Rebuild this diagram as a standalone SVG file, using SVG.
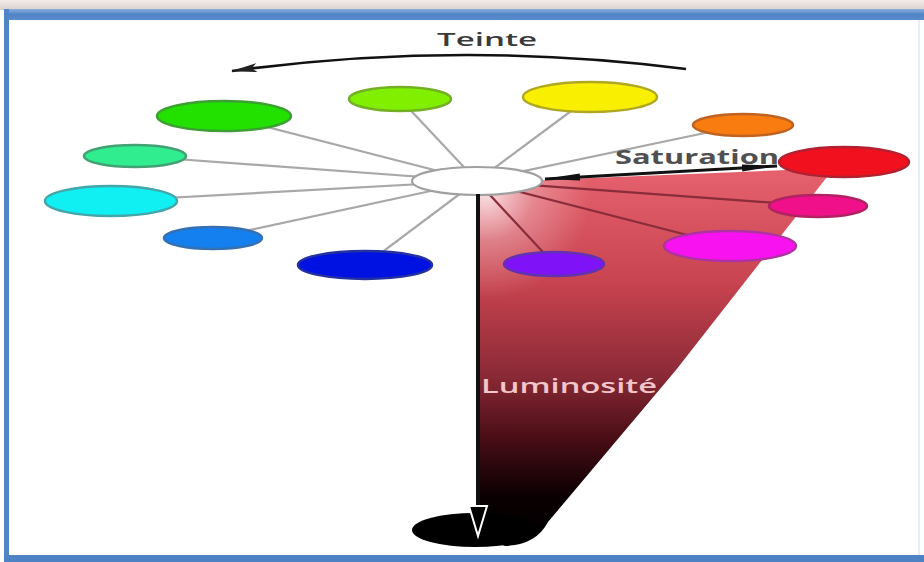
<svg xmlns="http://www.w3.org/2000/svg" width="924" height="562" viewBox="0 0 924 562">
  <defs>
    <style>
      .spoke { stroke: #a8a8a8; stroke-width: 2.2; fill: none; }
      .spoke-in { stroke: #8a2c3a; stroke-width: 2.2; fill: none; }
      .node { stroke-width: 2.5; }
      .label { font-family: "Open Sans", "DejaVu Sans", sans-serif; }
      .axis { stroke: #111; fill: none; }
    </style>
    <linearGradient id="topStrip" x1="0" y1="0" x2="0" y2="1">
      <stop offset="0" stop-color="#f4ece6"/>
      <stop offset="1" stop-color="#d6d2cf"/>
    </linearGradient>
    <linearGradient id="blueBand" x1="0" y1="0" x2="0" y2="1">
      <stop offset="0" stop-color="#8aaedc"/>
      <stop offset="0.5" stop-color="#4f84c6"/>
      <stop offset="1" stop-color="#5a8ccc"/>
    </linearGradient>
    <linearGradient id="coneFill" gradientUnits="userSpaceOnUse" x1="0" y1="175" x2="0" y2="540">
      <stop offset="0" stop-color="#e4606c"/>
      <stop offset="0.3" stop-color="#c6434f"/>
      <stop offset="0.55" stop-color="#8a2a36"/>
      <stop offset="0.72" stop-color="#4a0d16"/>
      <stop offset="0.88" stop-color="#0a0002"/>
      <stop offset="1" stop-color="#000"/>
    </linearGradient>
    <radialGradient id="coneGlow" gradientUnits="userSpaceOnUse" cx="486" cy="194" r="105">
      <stop offset="0" stop-color="#fff" stop-opacity="0.8"/>
      <stop offset="0.45" stop-color="#fff" stop-opacity="0.28"/>
      <stop offset="1" stop-color="#fff" stop-opacity="0"/>
    </radialGradient>
    <marker id="headSat" viewBox="0 0 36 8" refX="35" refY="4" markerWidth="36" markerHeight="8" markerUnits="userSpaceOnUse" orient="auto-start-reverse">
      <path d="M0,0.5 L36,4 L0,7.5 Z" fill="#111"/>
    </marker>
    <marker id="headHue" viewBox="0 0 26 9" refX="25" refY="4.5" markerWidth="26" markerHeight="9" markerUnits="userSpaceOnUse" orient="auto">
      <path d="M0,0 L26,4.5 L0,9 L5,4.5 Z" fill="#222"/>
    </marker>
  </defs>

  <!-- window frame -->
  <rect x="0" y="0" width="924" height="562" fill="#fff"/>
  <rect x="0" y="0" width="924" height="10" fill="url(#topStrip)"/>
  <rect x="4" y="9" width="920" height="11" fill="url(#blueBand)"/>
  <rect x="4" y="9" width="5" height="553" fill="#4f86c8"/>
  <rect x="4" y="555" width="920" height="7" fill="#4d82c4"/>
  <rect x="918" y="20" width="2" height="535" fill="#e2eef8"/>

  <!-- spokes behind the cone -->
  <g id="connectors">
    <line class="spoke" x1="477" y1="181" x2="224" y2="116"/>
    <line class="spoke" x1="477" y1="181" x2="135" y2="156"/>
    <line class="spoke" x1="477" y1="181" x2="111" y2="201"/>
    <line class="spoke" x1="477" y1="181" x2="213" y2="238"/>
    <line class="spoke" x1="477" y1="181" x2="365" y2="265"/>
    <line class="spoke" x1="477" y1="181" x2="400" y2="99"/>
    <line class="spoke" x1="477" y1="181" x2="590" y2="97"/>
    <line class="spoke" x1="477" y1="181" x2="743" y2="125"/>
  </g>

  <!-- lightness cone -->
  <g id="cone">
    <path d="M479 190 L542 180 L834 168 L676 370 L548 522 Q536 545 505 546 L479 536 Z" fill="url(#coneFill)"/>
    <path d="M479 190 L542 180 L834 168 L676 370 L548 522 Q536 545 505 546 L479 536 Z" fill="url(#coneGlow)"/>
  </g>

  <!-- spokes crossing the cone -->
  <g id="connectors-cone">
    <line class="spoke-in" x1="477" y1="181" x2="818" y2="206"/>
    <line class="spoke-in" x1="477" y1="181" x2="730" y2="246"/>
    <line class="spoke-in" x1="477" y1="181" x2="554" y2="264"/>
  </g>

  <!-- hub -->
  <g id="hub">
    <ellipse cx="477" cy="181" rx="65" ry="14" fill="#fff" stroke="#a0a0a0" stroke-width="2.2"/>
  </g>

  <!-- hue nodes -->
  <g id="green"><ellipse class="node" cx="224" cy="116" rx="67" ry="15" fill="#22e000" stroke="#3c9e34"/></g>
  <g id="spring-green"><ellipse class="node" cx="135" cy="156" rx="51" ry="11" fill="#30ee90" stroke="#42a274"/></g>
  <g id="cyan"><ellipse class="node" cx="111" cy="201" rx="66" ry="15" fill="#10f0f2" stroke="#42a6aa"/></g>
  <g id="azure"><ellipse class="node" cx="213" cy="238" rx="49" ry="11" fill="#1480f0" stroke="#3470b2"/></g>
  <g id="blue"><ellipse class="node" cx="365" cy="265" rx="67" ry="14" fill="#0012e2" stroke="#2432a0"/></g>
  <g id="chartreuse"><ellipse class="node" cx="400" cy="99" rx="51" ry="12" fill="#80f000" stroke="#74b024"/></g>
  <g id="yellow"><ellipse class="node" cx="590" cy="97" rx="67" ry="15" fill="#f8f000" stroke="#b0a822"/></g>
  <g id="orange"><ellipse class="node" cx="743" cy="125" rx="50" ry="11" fill="#f87c10" stroke="#c06222"/></g>
  <g id="red"><ellipse class="node" cx="844" cy="162" rx="65" ry="15" fill="#f0101e" stroke="#b02232"/></g>
  <g id="rose"><ellipse class="node" cx="818" cy="206" rx="49" ry="11" fill="#f0108a" stroke="#b02262"/></g>
  <g id="magenta"><ellipse class="node" cx="730" cy="246" rx="66" ry="15" fill="#f812f0" stroke="#b032a2"/></g>
  <g id="violet"><ellipse class="node" cx="554" cy="264" rx="50" ry="12" fill="#8012f8" stroke="#6232b0"/></g>

  <!-- black base -->
  <g id="black">
    <ellipse cx="475" cy="530" rx="63" ry="17" fill="#000"/>
  </g>

  <!-- axes -->
  <g id="axes">
    <line class="axis" x1="478" y1="194" x2="478" y2="512" stroke-width="4"/>
    <polygon points="469,506 487,506 478,536" fill="#000" stroke="#fff" stroke-width="2"/>
    <line class="axis" x1="545" y1="179" x2="777" y2="166" stroke-width="3" marker-start="url(#headSat)" marker-end="url(#headSat)"/>
    <path class="axis" d="M686 69 Q460 40 232 71" stroke="#222" stroke-width="2.6" marker-end="url(#headHue)"/>
  </g>

  <!-- labels -->
  <g id="labels" class="label">
    <text x="437" y="46" font-size="18" font-weight="600" fill="#3a3a3a" textLength="100" lengthAdjust="spacingAndGlyphs">Teinte</text>
    <text x="615" y="164" font-size="20" font-weight="700" fill="#505050" textLength="164" lengthAdjust="spacingAndGlyphs">Saturation</text>
    <text x="481" y="393" font-size="20" font-weight="600" fill="#f2c6ca" textLength="176" lengthAdjust="spacingAndGlyphs">Luminosité</text>
  </g>
</svg>
